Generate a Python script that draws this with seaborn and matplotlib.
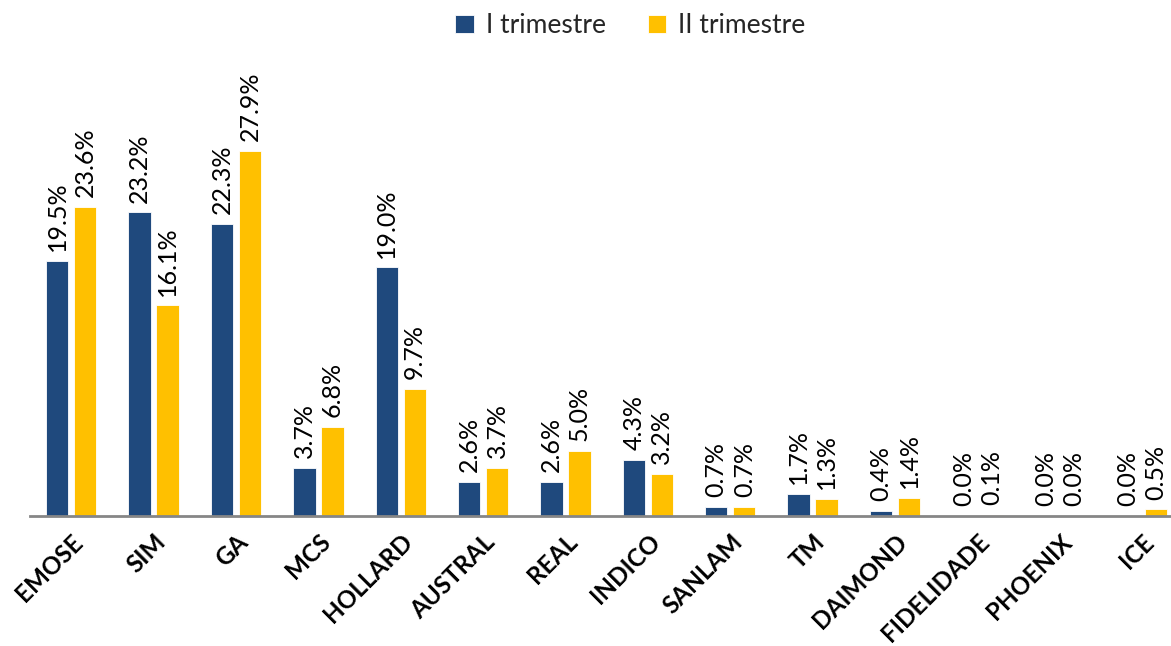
import matplotlib
matplotlib.use("Agg")
import matplotlib.pyplot as plt
import seaborn as sns
import pandas as pd

categories = ["EMOSE", "SIM", "GA", "MCS", "HOLLARD", "AUSTRAL", "REAL", "INDICO",
              "SANLAM", "TM", "DAIMOND", "FIDELIDADE", "PHOENIX", "ICE"]
q1 = [19.5, 23.2, 22.3, 3.7, 19.0, 2.6, 2.6, 4.3, 0.7, 1.7, 0.4, 0.0, 0.0, 0.0]
q2 = [23.6, 16.1, 27.9, 6.8, 9.7, 3.7, 5.0, 3.2, 0.7, 1.3, 1.4, 0.1, 0.0, 0.5]
series = ["I trimestre", "II trimestre"]
colors = ["#1F497D", "#FFC000"]

df = pd.DataFrame({
    "cat": categories * 2,
    "val": q1 + q2,
    "serie": [series[0]] * len(categories) + [series[1]] * len(categories),
})

sns.set_theme(style="white")
plt.rcParams["font.family"] = ["Lato", "DejaVu Sans"]

fig = plt.figure(figsize=(11.71, 6.46), dpi=100)
ax = fig.add_axes([30 / 1171, 130 / 646, 1141 / 1171, 458 / 646])

sns.barplot(data=df, x="cat", y="val", hue="serie", palette=colors,
            width=0.68, gap=0.2, ax=ax, saturation=1, legend=True,
            edgecolor="white", linewidth=0.6)

for cont in ax.containers:
    ax.bar_label(cont, labels=[f"{v:.1f}%" for v in cont.datavalues],
                 rotation=90, padding=7, fontsize=18, color="#000000")

ax.set_ylim(0, 35)
ax.set_xlim(-0.5, 13.35)
ax.set_xlabel("")
ax.set_ylabel("")
ax.set_yticks([])
for s in ["top", "right", "left"]:
    ax.spines[s].set_visible(False)
ax.spines["bottom"].set_color("#868686")
ax.spines["bottom"].set_linewidth(2)
ax.tick_params(axis="x", length=0, pad=10)
plt.setp(ax.get_xticklabels(), rotation=45, ha="right", rotation_mode="anchor",
         fontsize=17.5, fontweight="bold", color="#000000")

ax.legend(loc="upper center", bbox_to_anchor=(0.5 + 30 / 1141, 1.15), ncol=2,
          frameon=False, fontsize=19, handlelength=0.7, handleheight=0.7,
          columnspacing=1.6, handletextpad=0.45)

fig.savefig("out.png", dpi=100)
